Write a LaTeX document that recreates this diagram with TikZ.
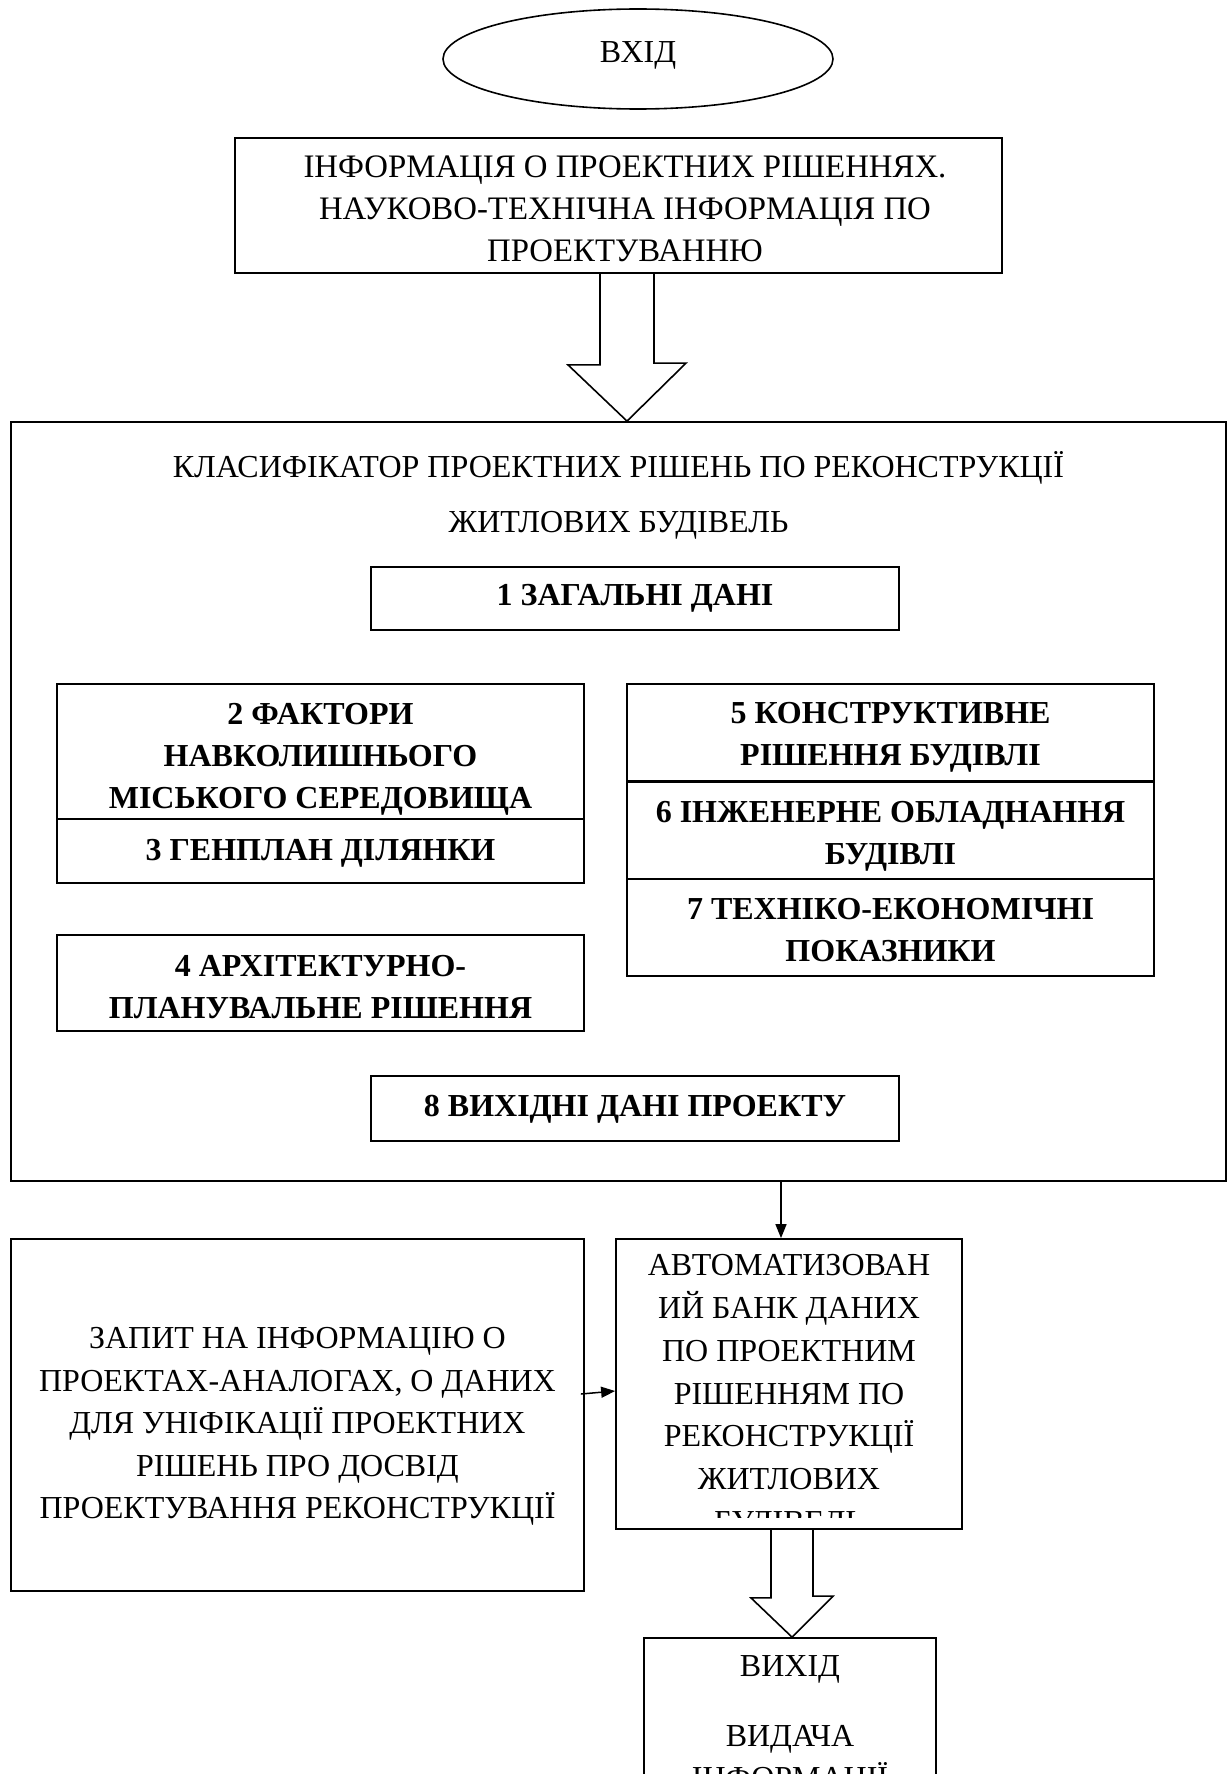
\documentclass[tikz,border=0pt]{standalone}
\usepackage{fontspec}
\setmainfont{Liberation Serif}
\usetikzlibrary{shapes.geometric,arrows.meta,calc}
\begin{document}
\begin{tikzpicture}[x=1pt,y=-1pt,
  box/.style={draw, line width=1.8pt, inner sep=0pt, rectangle},
  txt/.style={align=center, inner sep=0pt, font=\fontsize{32}{42.5}\selectfont},
  btxt/.style={align=center, inner sep=0pt, font=\fontsize{32}{42}\selectfont\bfseries},
  fat/.style={draw, line width=1.6pt, line join=miter},
  thin/.style={line width=1.5pt, -{Triangle[length=14pt,width=11pt]}}]
\useasboundingbox (0,0) rectangle (1229,1774);

% entry
\node[draw, ellipse, line width=1.6pt, minimum width=390pt, minimum height=100pt, inner sep=0pt] (start) at (638,59) {};
\node[txt] (tstart) at (638,54) {\strut ВХІД\strut};

% info box
\node[box, minimum width=767pt, minimum height=135pt] (info) at (618.5,205.5) {};
\node[txt, font=\fontsize{32.8}{42}\selectfont] (tinfo) at (625,211) {\strut ІНФОРМАЦІЯ О ПРОЕКТНИХ РІШЕННЯХ.\\НАУКОВО-ТЕХНІЧНА ІНФОРМАЦІЯ ПО\\ПРОЕКТУВАННЮ\strut};

% big classifier box
\node[box, minimum width=1215pt, minimum height=759pt] (big) at (618.5,801.5) {};
\node[txt] (title) at (618.5,496.5) {\strut КЛАСИФІКАТОР ПРОЕКТНИХ РІШЕНЬ ПО РЕКОНСТРУКЦІЇ\\[12.5pt]ЖИТЛОВИХ БУДІВЕЛЬ\strut};

% fat arrow 1
\draw[fat] ($(info.south)+(-18.5,0)$) -- ++(0,91) -- ++(-32,0) -- ($(big.north)+(8.5,0)$) -- ++(59,-58) -- ++(-32,0) -- ++(0,-91);

% inner boxes
\node[box, minimum width=528pt, minimum height=63pt] (b1) at (635,598.5) {};
\node[btxt] (t1) at (635,597) {\strut 1 ЗАГАЛЬНІ ДАНІ\strut};

\node[box, minimum width=527pt, minimum height=135pt] (b2) at (320.5,751.5) {};
\node[btxt] (t2) at (320.5,758) {\strut 2 ФАКТОРИ\\НАВКОЛИШНЬОГО\\МІСЬКОГО СЕРЕДОВИЩА\strut};

\node[box, minimum width=527pt, minimum height=64pt] (b3) at (320.5,851) {};
\node[btxt] (t3) at (320.5,852) {\strut 3 ГЕНПЛАН ДІЛЯНКИ\strut};

\node[box, minimum width=527pt, minimum height=96pt] (b4) at (320.5,983) {};
\node[btxt] (t4) at (320.5,989) {\strut 4 АРХІТЕКТУРНО-\\ПЛАНУВАЛЬНЕ РІШЕННЯ\strut};

\node[box, minimum width=527pt, minimum height=97pt] (b5) at (890.5,732.5) {};
\node[btxt] (t5) at (890.5,736.5) {\strut 5 КОНСТРУКТИВНЕ\\РІШЕННЯ БУДІВЛІ\strut};

\node[box, minimum width=527pt, minimum height=98pt] (b6) at (890.5,830) {};
\node[btxt] (t6) at (890.5,835.5) {\strut 6 ІНЖЕНЕРНЕ ОБЛАДНАННЯ\\БУДІВЛІ\strut};
\draw[line width=3pt] (b5.south west) -- (b5.south east);

\node[box, minimum width=527pt, minimum height=97pt] (b7) at (890.5,927.5) {};
\node[btxt] (t7) at (890.5,932.5) {\strut 7 ТЕХНІКО-ЕКОНОМІЧНІ\\ПОКАЗНИКИ\strut};

\node[box, minimum width=528pt, minimum height=65pt] (b8) at (635,1108.5) {};
\node[btxt] (t8) at (635,1108) {\strut 8 ВИХІДНІ ДАНІ ПРОЕКТУ\strut};

% query box
\node[box, minimum width=573pt, minimum height=352pt] (query) at (297.5,1415) {};
\node[txt] (tquery) at (297.5,1425) {\strut ЗАПИТ НА ІНФОРМАЦІЮ О\\ПРОЕКТАХ-АНАЛОГАХ, О ДАНИХ\\ДЛЯ УНІФІКАЦІЇ ПРОЕКТНИХ\\РІШЕНЬ ПРО ДОСВІД\\ПРОЕКТУВАННЯ РЕКОНСТРУКЦІЇ\strut};

% bank box
\node[box, minimum width=346pt, minimum height=290pt] (bank) at (789,1384) {};
\begin{scope}
\clip (618,1241) rectangle (960,1517);
\node[txt, font=\fontsize{32}{42.8}\selectfont] (tbank) at (789,1395.5) {\strut АВТОМАТИЗОВАН\\ИЙ БАНК ДАНИХ\\ПО ПРОЕКТНИМ\\РІШЕННЯМ ПО\\РЕКОНСТРУКЦІЇ\\ЖИТЛОВИХ\\БУДІВЕЛЬ\strut};
\end{scope}

% output box
\begin{scope}
\clip (0,0) rectangle (1229,1774);
\node[box, minimum width=292pt, minimum height=192pt] (out) at (790,1734) {};
\node[txt] (tout) at (790,1724) {\strut ВИХІД\\[27.5pt]ВИДАЧА\\ІНФОРМАЦІЇ\strut};
\end{scope}

% connectors
\draw[thin] ($(big.south)+(162.5,0)$) -- ($(bank.north)+(-8,0)$);
\draw[thin] ($(query.east)+(-4,-21)$) -- ($(bank.west)+(0,7)$);
\draw[fat] ($(bank.south)+(-18,0)$) -- ++(0,68) -- ++(-20,0) -- ($(out.north)+(2,0)$) -- ++(41,-41) -- ++(-20,0) -- ++(0,-68);
\end{tikzpicture}
\end{document}
